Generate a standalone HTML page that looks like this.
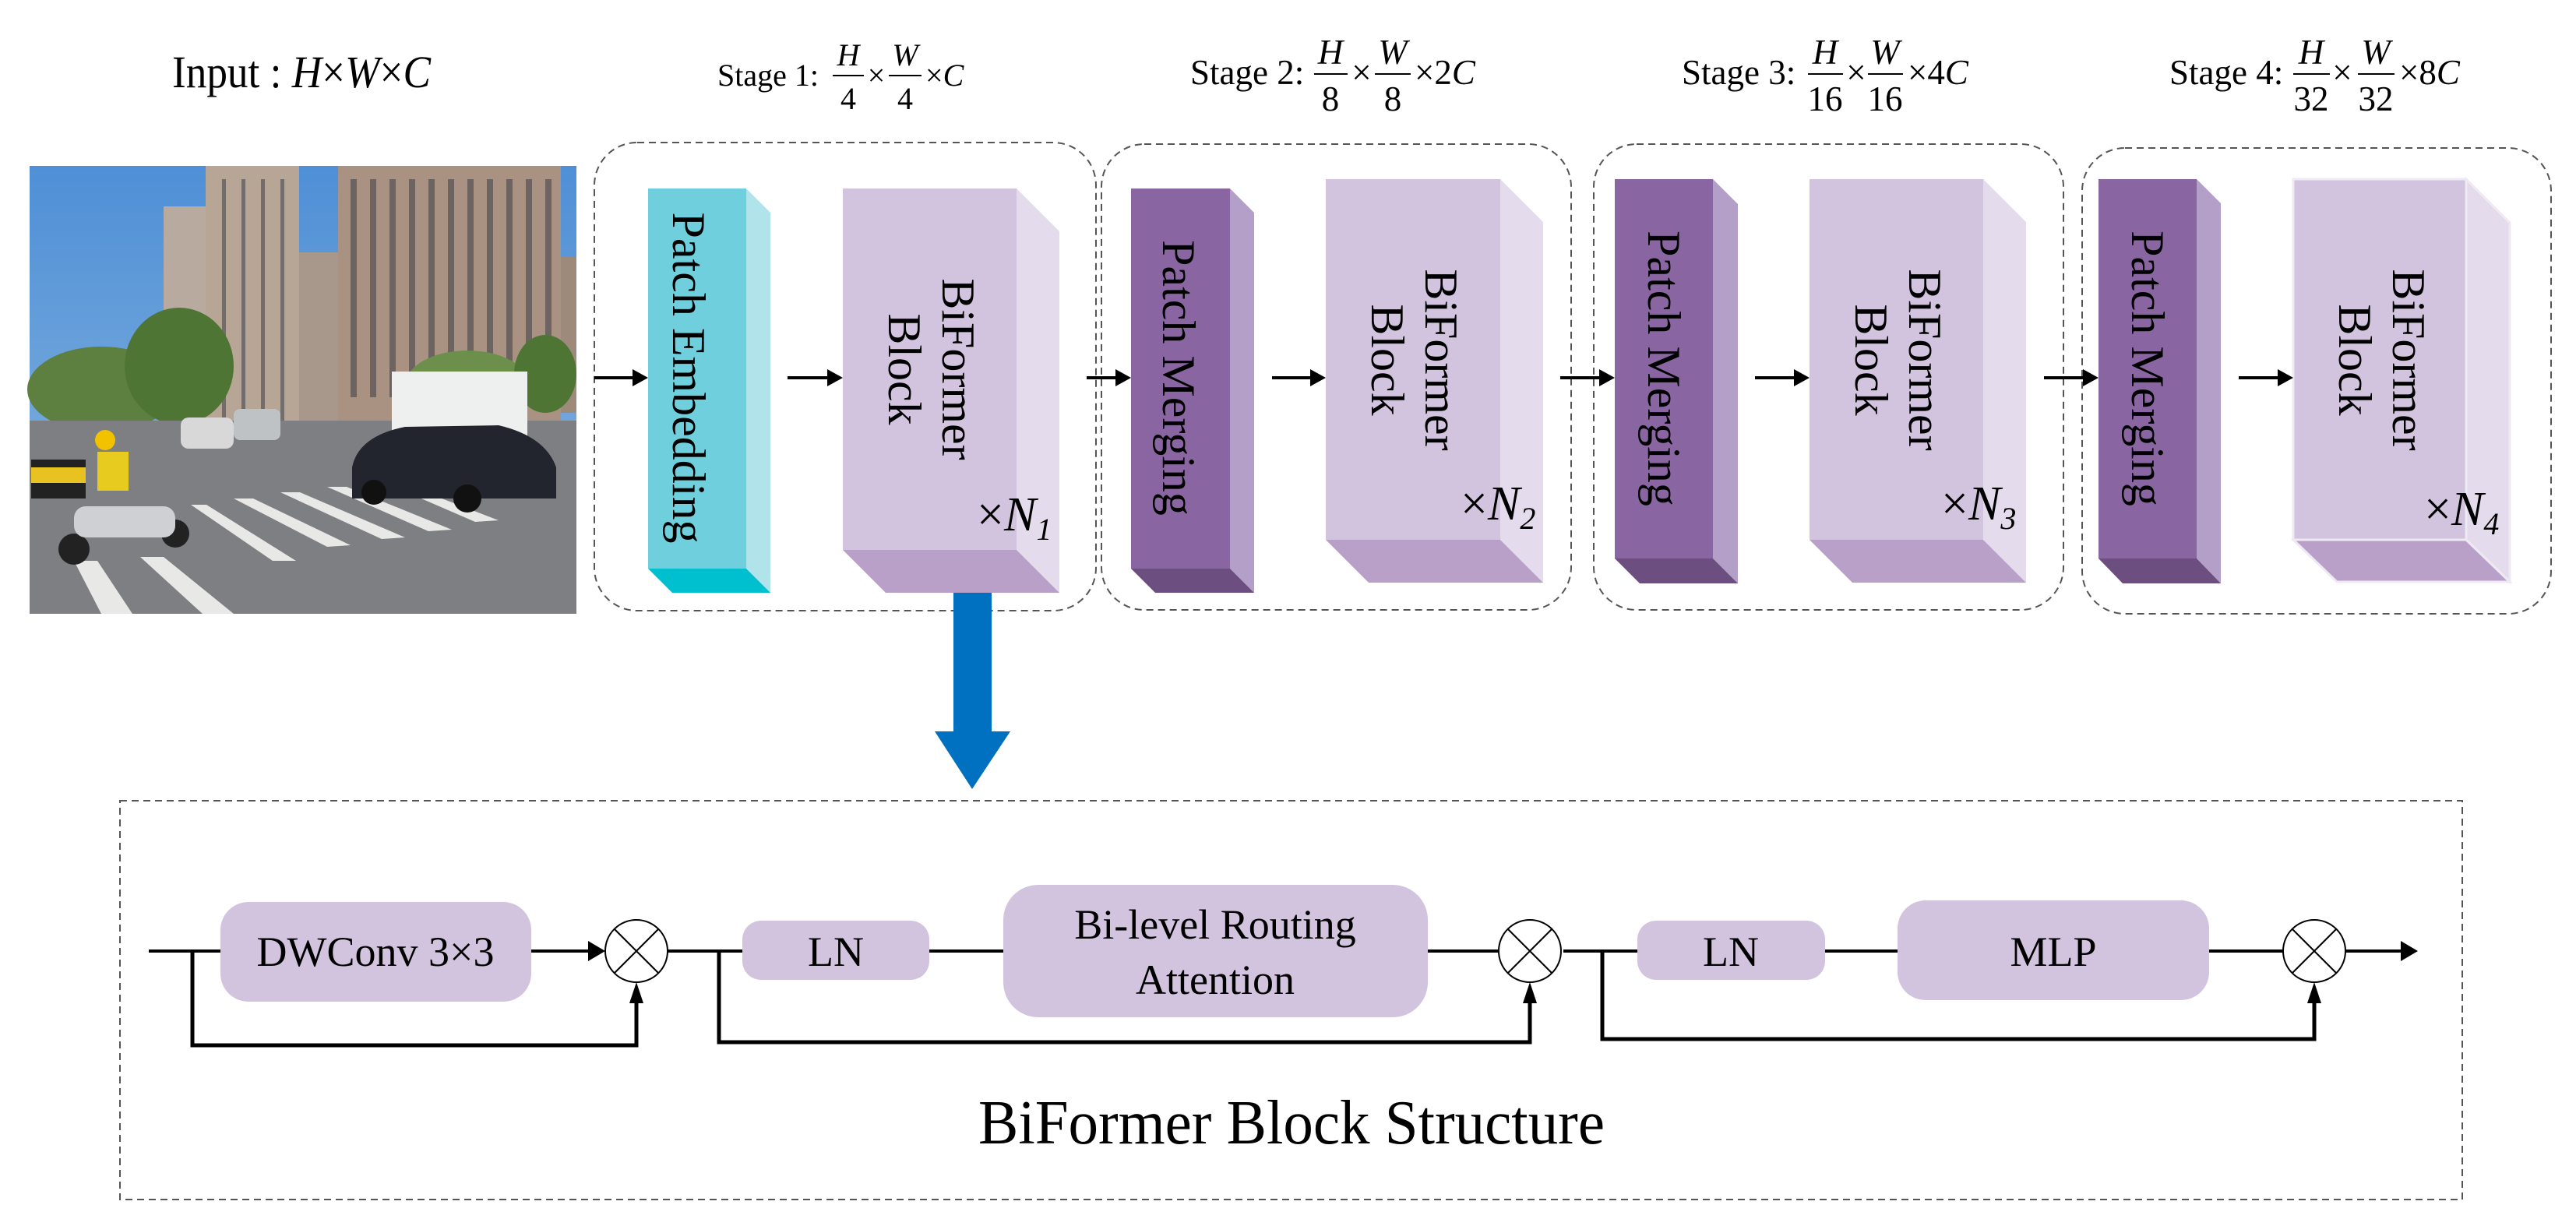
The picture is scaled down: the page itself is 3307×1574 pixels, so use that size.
<!DOCTYPE html>
<html><head><meta charset="utf-8"><style>
html,body{margin:0;padding:0;background:#fff;}
svg{display:block;}
svg text{font-family:"Liberation Serif","Noto Serif CJK SC","DejaVu Serif",serif;fill:#000;}
</style></head><body>
<svg width="3307" height="1574" viewBox="0 0 3307 1574" xmlns="http://www.w3.org/2000/svg">
<defs>
<linearGradient id="sky" x1="0" y1="0" x2="0" y2="1"><stop offset="0" stop-color="#4f8fd6"/><stop offset="1" stop-color="#8ab7e0"/></linearGradient>
</defs>

<text x="221" y="112" font-size="58" textLength="332" lengthAdjust="spacingAndGlyphs">Input : <tspan font-style="italic">H</tspan>×<tspan font-style="italic">W</tspan>×<tspan font-style="italic">C</tspan></text>

<g>
<rect x="38" y="213" width="702" height="575" fill="url(#sky)"/>
<rect x="210" y="265" width="56" height="300" fill="#b8aa9f"/>
<rect x="264" y="213" width="120" height="370" fill="#b7a596"/>
<rect x="384" y="324" width="52" height="250" fill="#a8988c"/>
<rect x="434" y="213" width="286" height="330" fill="#a99281"/>
<rect x="720" y="330" width="20" height="200" fill="#9d8a7b"/>
<g fill="#3d3f4a" opacity="0.55">
<rect x="450" y="230" width="8" height="280"/><rect x="475" y="230" width="8" height="280"/><rect x="500" y="230" width="8" height="280"/><rect x="525" y="230" width="8" height="280"/><rect x="550" y="230" width="8" height="280"/><rect x="575" y="230" width="8" height="280"/><rect x="600" y="230" width="8" height="280"/><rect x="625" y="230" width="8" height="280"/><rect x="650" y="230" width="8" height="280"/><rect x="675" y="230" width="8" height="280"/><rect x="700" y="230" width="8" height="280"/>
<rect x="285" y="230" width="5" height="330"/><rect x="310" y="230" width="5" height="330"/><rect x="335" y="230" width="5" height="330"/><rect x="360" y="230" width="5" height="330"/>
</g>
<ellipse cx="130" cy="500" rx="95" ry="55" fill="#5d8040"/>
<ellipse cx="230" cy="470" rx="70" ry="75" fill="#4f7535"/>
<ellipse cx="600" cy="495" rx="80" ry="45" fill="#6c8f4c"/>
<ellipse cx="700" cy="480" rx="40" ry="50" fill="#4f7535"/>
<rect x="38" y="540" width="702" height="248" fill="#7d7f83"/>
<g fill="#e8e8e6">
<polygon points="245,648 265,648 380,720 350,720"/>
<polygon points="300,640 325,640 450,700 420,702"/>
<polygon points="360,632 385,632 520,690 490,692"/>
<polygon points="420,625 445,625 580,680 550,682"/>
<polygon points="490,618 510,618 640,668 610,670"/>
<polygon points="95,720 125,720 170,788 130,788"/>
<polygon points="180,715 210,715 300,788 260,788"/>
</g>
<rect x="503" y="477" width="174" height="90" fill="#eef0f0"/>
<path d="M452,600 Q460,560 520,548 L640,546 Q700,560 714,600 L714,640 L452,640 Z" fill="#23252e"/>
<circle cx="480" cy="632" r="16" fill="#111"/><circle cx="600" cy="640" r="18" fill="#111"/>
<rect x="232" y="536" width="68" height="40" rx="10" fill="#d8d8d8"/>
<rect x="300" y="525" width="60" height="40" rx="8" fill="#bfc2c5"/>
<rect x="40" y="590" width="70" height="50" fill="#222"/>
<rect x="40" y="600" width="70" height="20" fill="#e7c221"/>
<rect x="125" y="580" width="40" height="50" fill="#e8cb1f"/>
<circle cx="135" cy="565" r="13" fill="#f2c200"/>
<circle cx="95" cy="705" r="20" fill="#222"/><circle cx="225" cy="685" r="18" fill="#222"/>
<rect x="95" y="650" width="130" height="40" rx="15" fill="#cfd0d3"/>
</g>

<g font-size="40">
<text x="921" y="110">Stage 1:</text>
<text x="1089" y="84" text-anchor="middle" font-style="italic">H</text>
<line x1="1069" y1="97" x2="1109" y2="97" stroke="#000" stroke-width="2"/>
<text x="1089" y="140" text-anchor="middle">4</text>
<text x="1125" y="110" text-anchor="middle">×</text>
<text x="1162" y="84" text-anchor="middle" font-style="italic">W</text>
<line x1="1141" y1="97" x2="1183" y2="97" stroke="#000" stroke-width="2"/>
<text x="1162" y="140" text-anchor="middle">4</text>
<text x="1188" y="110">×<tspan font-style="italic">C</tspan></text>
</g>
<g font-size="45">
<text x="1528" y="108">Stage 2:</text>
<text x="1708" y="82" text-anchor="middle" font-style="italic">H</text>
<line x1="1687" y1="95" x2="1730" y2="95" stroke="#000" stroke-width="2"/>
<text x="1708" y="142" text-anchor="middle">8</text>
<text x="1748" y="108" text-anchor="middle">×</text>
<text x="1788" y="82" text-anchor="middle" font-style="italic">W</text>
<line x1="1765" y1="95" x2="1811" y2="95" stroke="#000" stroke-width="2"/>
<text x="1788" y="142" text-anchor="middle">8</text>
<text x="1816" y="108">×2<tspan font-style="italic">C</tspan></text>

<text x="2159" y="108">Stage 3:</text>
<text x="2343" y="82" text-anchor="middle" font-style="italic">H</text>
<line x1="2321" y1="95" x2="2366" y2="95" stroke="#000" stroke-width="2"/>
<text x="2343" y="142" text-anchor="middle">16</text>
<text x="2383" y="108" text-anchor="middle">×</text>
<text x="2420" y="82" text-anchor="middle" font-style="italic">W</text>
<line x1="2398" y1="95" x2="2443" y2="95" stroke="#000" stroke-width="2"/>
<text x="2420" y="142" text-anchor="middle">16</text>
<text x="2449" y="108">×4<tspan font-style="italic">C</tspan></text>

<text x="2785" y="108">Stage 4:</text>
<text x="2967" y="82" text-anchor="middle" font-style="italic">H</text>
<line x1="2944" y1="95" x2="2991" y2="95" stroke="#000" stroke-width="2"/>
<text x="2967" y="142" text-anchor="middle">32</text>
<text x="3007" y="108" text-anchor="middle">×</text>
<text x="3050" y="82" text-anchor="middle" font-style="italic">W</text>
<line x1="3027" y1="95" x2="3074" y2="95" stroke="#000" stroke-width="2"/>
<text x="3050" y="142" text-anchor="middle">32</text>
<text x="3080" y="108">×8<tspan font-style="italic">C</tspan></text>
</g>

<g fill="none" stroke="#555" stroke-width="2" stroke-dasharray="9,6">
<rect x="763" y="183" width="644" height="601" rx="55"/>
<rect x="1414" y="185" width="603" height="598" rx="55"/>
<rect x="2046" y="185" width="603" height="598" rx="55"/>
<rect x="2673" y="190" width="602" height="598" rx="55"/>
<rect x="154" y="1028" width="3007" height="512"/>
</g>

<polygon points="958,242 989,273 989,761 958,730" fill="#b0e3ea"/>
<polygon points="832,730 958,730 989,761 863,761" fill="#00bfcf"/>
<rect x="832" y="242" width="126" height="488" fill="#6fcfdc"/>
<text x="884" y="485" font-size="60" text-anchor="middle" dominant-baseline="central" transform="rotate(90 884 485)">Patch Embedding</text>

<polygon points="1305,242 1360,297 1360,761 1305,706" fill="#e4dcec"/>
<polygon points="1082,706 1305,706 1360,761 1137,761" fill="#b9a0c9"/>
<rect x="1082" y="242" width="223" height="464" fill="#d2c4de"/>
<text x="1230" y="474" font-size="60" text-anchor="middle" dominant-baseline="central" transform="rotate(90 1230 474)">BiFormer</text>
<text x="1161" y="474" font-size="60" text-anchor="middle" dominant-baseline="central" transform="rotate(90 1161 474)">Block</text>
<text x="1254" y="681" font-size="62">×<tspan font-style="italic">N</tspan><tspan font-size="40" font-style="italic" dy="12">1</tspan></text>

<polygon points="1579,242 1610,273 1610,761 1579,730" fill="#b49fc8"/>
<polygon points="1452,730 1579,730 1610,761 1483,761" fill="#6c4f80"/>
<rect x="1452" y="242" width="127" height="488" fill="#8966a2"/>
<text x="1513" y="485" font-size="60" text-anchor="middle" dominant-baseline="central" transform="rotate(90 1513 485)">Patch Merging</text>

<polygon points="1926,230 1981,285 1981,748 1926,693" fill="#e4dcec"/>
<polygon points="1702,693 1926,693 1981,748 1757,748" fill="#b9a0c9"/>
<rect x="1702" y="230" width="224" height="463" fill="#d2c4de"/>
<text x="1850" y="462" font-size="60" text-anchor="middle" dominant-baseline="central" transform="rotate(90 1850 462)">BiFormer</text>
<text x="1781" y="462" font-size="60" text-anchor="middle" dominant-baseline="central" transform="rotate(90 1781 462)">Block</text>
<text x="1875" y="667" font-size="62">×<tspan font-style="italic">N</tspan><tspan font-size="40" font-style="italic" dy="12">2</tspan></text>

<polygon points="2199,230 2231,262 2231,749 2199,717" fill="#b49fc8"/>
<polygon points="2073,717 2199,717 2231,749 2105,749" fill="#6c4f80"/>
<rect x="2073" y="230" width="126" height="487" fill="#8966a2"/>
<text x="2136" y="473" font-size="60" text-anchor="middle" dominant-baseline="central" transform="rotate(90 2136 473)">Patch Merging</text>

<polygon points="2546,230 2601,285 2601,748 2546,693" fill="#e4dcec"/>
<polygon points="2323,693 2546,693 2601,748 2378,748" fill="#b9a0c9"/>
<rect x="2323" y="230" width="223" height="463" fill="#d2c4de"/>
<text x="2471" y="462" font-size="60" text-anchor="middle" dominant-baseline="central" transform="rotate(90 2471 462)">BiFormer</text>
<text x="2402" y="462" font-size="60" text-anchor="middle" dominant-baseline="central" transform="rotate(90 2402 462)">Block</text>
<text x="2492" y="667" font-size="62">×<tspan font-style="italic">N</tspan><tspan font-size="40" font-style="italic" dy="12">3</tspan></text>

<polygon points="2820,230 2851,261 2851,749 2820,717" fill="#b49fc8"/>
<polygon points="2694,717 2820,717 2851,749 2725,749" fill="#6c4f80"/>
<rect x="2694" y="230" width="126" height="487" fill="#8966a2"/>
<text x="2757" y="473" font-size="60" text-anchor="middle" dominant-baseline="central" transform="rotate(90 2757 473)">Patch Merging</text>

<polygon points="3166,230 3222,286 3222,747 3166,693" fill="#e4dcec" stroke="#efe9f4" stroke-width="3"/>
<polygon points="2944,693 3166,693 3222,747 3000,747" fill="#b9a0c9" stroke="#efe9f4" stroke-width="3"/>
<rect x="2944" y="230" width="222" height="463" fill="#d2c4de" stroke="#efe9f4" stroke-width="3"/>
<text x="3092" y="462" font-size="60" text-anchor="middle" dominant-baseline="central" transform="rotate(90 3092 462)">BiFormer</text>
<text x="3023" y="462" font-size="60" text-anchor="middle" dominant-baseline="central" transform="rotate(90 3023 462)">Block</text>
<text x="3112" y="674" font-size="62">×<tspan font-style="italic">N</tspan><tspan font-size="40" font-style="italic" dy="12">4</tspan></text>

<g stroke="#000" stroke-width="4">
<line x1="763" y1="485" x2="815" y2="485"/>
<line x1="1011" y1="485" x2="1065" y2="485"/>
<line x1="1395" y1="485" x2="1435" y2="485"/>
<line x1="1633" y1="485" x2="1685" y2="485"/>
<line x1="2003" y1="485" x2="2056" y2="485"/>
<line x1="2253" y1="485" x2="2306" y2="485"/>
<line x1="2624" y1="485" x2="2677" y2="485"/>
<line x1="2874" y1="485" x2="2927" y2="485"/>
</g>
<g fill="#000">
<polygon points="832,485 812,474 812,496"/>
<polygon points="1082,485 1062,474 1062,496"/>
<polygon points="1452,485 1432,474 1432,496"/>
<polygon points="1702,485 1682,474 1682,496"/>
<polygon points="2073,485 2053,474 2053,496"/>
<polygon points="2323,485 2303,474 2303,496"/>
<polygon points="2694,485 2674,474 2674,496"/>
<polygon points="2944,485 2924,474 2924,496"/>
</g>

<polygon points="1224,761 1273,761 1273,939 1297,939 1248,1013 1200,939 1224,939" fill="#0070c0"/>

<g fill="#d2c4de">
<rect x="283" y="1158" width="399" height="128" rx="36"/>
<rect x="953" y="1182" width="240" height="76" rx="24"/>
<rect x="1288" y="1136" width="545" height="170" rx="45"/>
<rect x="2102" y="1182" width="241" height="76" rx="24"/>
<rect x="2436" y="1156" width="400" height="128" rx="36"/>
</g>
<g stroke="#000" stroke-width="4" fill="none">
<line x1="191" y1="1221" x2="283" y2="1221"/>
<line x1="682" y1="1221" x2="760" y2="1221"/>
<line x1="857" y1="1221" x2="953" y2="1221"/>
<line x1="1193" y1="1221" x2="1288" y2="1221"/>
<line x1="1833" y1="1221" x2="1924" y2="1221"/>
<line x1="2007" y1="1221" x2="2102" y2="1221"/>
<line x1="2343" y1="1221" x2="2436" y2="1221"/>
<line x1="2836" y1="1221" x2="2931" y2="1221"/>
<line x1="3011" y1="1221" x2="3085" y2="1221"/>
<polyline points="247,1221 247,1342 817,1342 817,1282" stroke-width="5"/>
<polyline points="923,1221 923,1338 1964,1338 1964,1282" stroke-width="5"/>
<polyline points="2057,1221 2057,1334 2971,1334 2971,1282" stroke-width="5"/>
</g>
<g fill="#000">
<polygon points="777,1221 755,1208 755,1234"/>
<polygon points="3104,1221 3082,1208 3082,1234"/>
<polygon points="817,1261 808,1288 826,1288"/>
<polygon points="1964,1261 1955,1288 1973,1288"/>
<polygon points="2971,1261 2962,1288 2980,1288"/>
</g>
<g fill="#fff" stroke="#000" stroke-width="2">
<circle cx="817" cy="1221" r="40"/>
<line x1="789" y1="1193" x2="845" y2="1249"/><line x1="845" y1="1193" x2="789" y2="1249"/>
<circle cx="1964" cy="1221" r="40"/>
<line x1="1936" y1="1193" x2="1992" y2="1249"/><line x1="1992" y1="1193" x2="1936" y2="1249"/>
<circle cx="2971" cy="1221" r="40"/>
<line x1="2943" y1="1193" x2="2999" y2="1249"/><line x1="2999" y1="1193" x2="2943" y2="1249"/>
</g>
<g font-size="54">
<text x="482" y="1240" text-anchor="middle">DWConv 3×3</text>
<text x="1073" y="1240" text-anchor="middle">LN</text>
<text x="1560" y="1205" text-anchor="middle">Bi-level Routing</text>
<text x="1560" y="1276" text-anchor="middle">Attention</text>
<text x="2222" y="1240" text-anchor="middle">LN</text>
<text x="2636" y="1240" text-anchor="middle">MLP</text>
</g>
<text x="1256" y="1468" font-size="80" textLength="804" lengthAdjust="spacingAndGlyphs">BiFormer Block Structure</text>
</svg>
</body></html>
